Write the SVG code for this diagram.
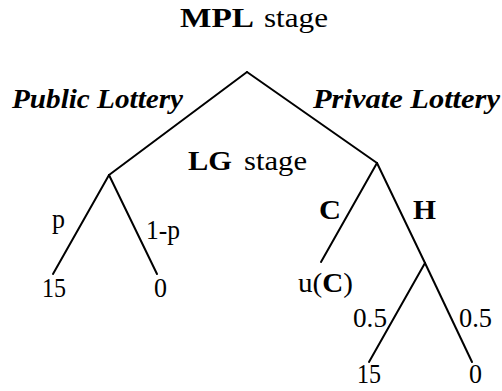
<svg xmlns="http://www.w3.org/2000/svg" width="502" height="391" viewBox="0 0 502 391">
<style>
text{font-family:'Liberation Serif','Times New Roman',serif;font-size:27px;fill:#000}
.b{font-weight:bold}
.bi{font-weight:bold;font-style:italic}
.e{stroke:#000;stroke-width:2;fill:none;stroke-linecap:round}
</style>
<rect width="502" height="391" fill="#fff"/>
<g id="title"><text x="180" y="27"><tspan class="b" textLength="74" lengthAdjust="spacingAndGlyphs">MPL</tspan><tspan x="264" textLength="64" lengthAdjust="spacingAndGlyphs">stage</tspan></text></g>
<g id="connectors">
<line class="e" x1="247" y1="72" x2="109" y2="175"/>
<line class="e" x1="247" y1="72" x2="377" y2="163"/>
<line class="e" x1="109" y1="175" x2="53" y2="274"/>
<line class="e" x1="109" y1="175" x2="157" y2="274"/>
<line class="e" x1="377" y1="163" x2="321" y2="262"/>
<line class="e" x1="377" y1="163" x2="425" y2="263"/>
<line class="e" x1="425" y1="263" x2="369" y2="362"/>
<line class="e" x1="425" y1="263" x2="472" y2="362"/>
</g>
<g id="root"><text class="bi" x="12" y="108" textLength="171" lengthAdjust="spacingAndGlyphs">Public Lottery</text><text class="bi" x="313" y="108" textLength="187" lengthAdjust="spacingAndGlyphs">Private Lottery</text></g>
<g id="public"><text x="52" y="228" textLength="13" lengthAdjust="spacingAndGlyphs">p</text><text x="146" y="239" textLength="34" lengthAdjust="spacingAndGlyphs">1-p</text></g>
<g id="private"><text x="188" y="170"><tspan class="b" textLength="44" lengthAdjust="spacingAndGlyphs">LG</tspan><tspan x="244" textLength="63" lengthAdjust="spacingAndGlyphs">stage</tspan></text><text class="b" x="319" y="219" textLength="22" lengthAdjust="spacingAndGlyphs">C</text><text class="b" x="413" y="219" textLength="23" lengthAdjust="spacingAndGlyphs">H</text></g>
<g id="leaf-public-15"><text x="42" y="297" textLength="24" lengthAdjust="spacingAndGlyphs">15</text></g>
<g id="leaf-public-0"><text x="154" y="297" textLength="13" lengthAdjust="spacingAndGlyphs">0</text></g>
<g id="leaf-c"><text x="298" y="292" textLength="55" lengthAdjust="spacingAndGlyphs">u(<tspan class="b">C</tspan>)</text></g>
<g id="chance-h"><text x="353" y="327" textLength="34" lengthAdjust="spacingAndGlyphs">0.5</text><text x="459" y="327" textLength="33" lengthAdjust="spacingAndGlyphs">0.5</text></g>
<g id="leaf-h-15"><text x="357" y="383" textLength="24" lengthAdjust="spacingAndGlyphs">15</text></g>
<g id="leaf-h-0"><text x="469" y="383" textLength="13" lengthAdjust="spacingAndGlyphs">0</text></g>
</svg>
